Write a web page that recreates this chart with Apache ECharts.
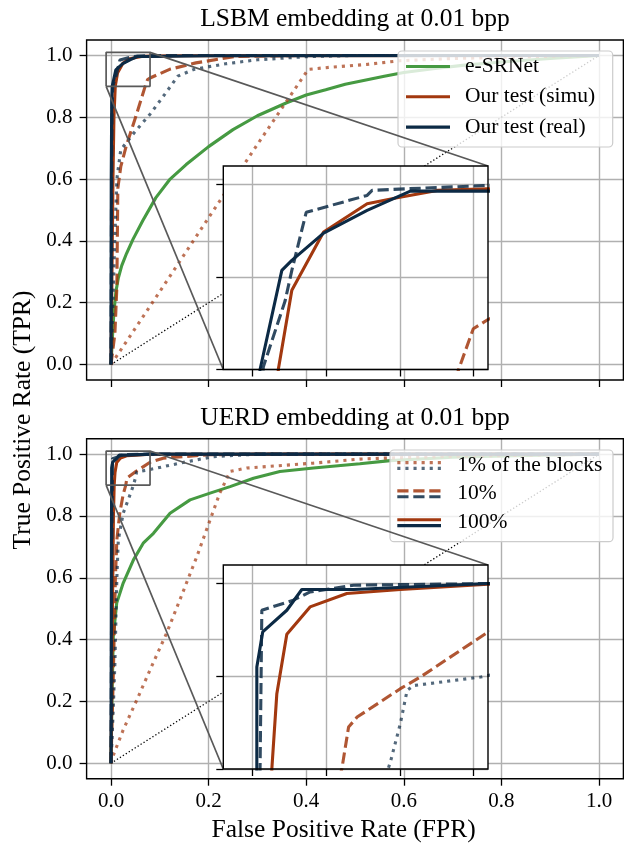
<!DOCTYPE html>
<html><head><meta charset="utf-8">
<script src="https://cdn.jsdelivr.net/npm/echarts@6/dist/echarts.min.js"></script>
<style>html,body{margin:0;padding:0;background:#fff}#c{width:624px;height:844px}</style>
</head><body><div id="c"></div>
<script>
// ---------------- data ----------------
const panelTitles = ['LSBM embedding at 0.01 bpp', 'UERD embedding at 0.01 bpp'];
const xLabel = 'False Positive Rate (FPR)';
const yLabel = 'True Positive Rate (TPR)';
const legendTop = ['e-SRNet', 'Our test (simu)', 'Our test (real)'];
const legendBottom = ['1% of the blocks', '10%', '100%'];
const mainTicks = [0, 0.2, 0.4, 0.6, 0.8, 1.0];
const mainRange = [-0.05, 1.05];
const insetXTicks = [0, 0.025, 0.05, 0.075];
const insetYTicks = [0.9, 0.95, 1.0];
const insetXRange = [-0.01, 0.08];
const insetYRange = [0.9, 1.01];
const diagonal = [[0, 0], [1, 1]];

// LSBM panel
const lsbm_srnet = [[0,0],[0.003,0.09],[0.006,0.17],[0.01,0.235],[0.015,0.28],[0.022,0.32],[0.032,0.36],[0.045,0.405],[0.065,0.465],[0.092,0.54],[0.12,0.598],[0.154,0.647],[0.2,0.705],[0.25,0.76],[0.3,0.805],[0.36,0.847],[0.4,0.872],[0.44,0.889],[0.48,0.907],[0.56,0.933],[0.6,0.945],[0.66,0.957],[0.72,0.968],[0.8,0.979],[0.9,0.99],[1,1]];
const lsbm_simu1 = [[0,0],[0.1,0.236],[0.2,0.475],[0.3,0.712],[0.404,0.955],[0.45,0.962],[0.524,0.971],[0.592,0.983],[0.7,0.99],[0.85,0.996],[1,1]];
const lsbm_simu10 = [[0,0],[0.008,0.1],[0.012,0.25],[0.014,0.57],[0.02,0.64],[0.031,0.706],[0.051,0.803],[0.07,0.9],[0.075,0.922],[0.08,0.927],[0.12,0.955],[0.174,0.976],[0.256,0.997],[0.4,1.0],[1,1]];
const lsbm_simu100 = [[0,0],[0.002,0.3],[0.004,0.6],[0.006,0.8],[0.0087,0.9],[0.0133,0.9428],[0.0241,0.9743],[0.0389,0.9896],[0.0491,0.9928],[0.0627,0.9968],[0.08,0.9977],[0.15,0.999],[1,1]];
const lsbm_real1 = [[0,0],[0.004,0.2],[0.008,0.42],[0.012,0.6],[0.02,0.695],[0.05,0.755],[0.08,0.81],[0.11,0.874],[0.137,0.933],[0.17,0.955],[0.235,0.973],[0.3,0.986],[0.4,0.996],[0.5,1.0],[1,1]];
const lsbm_real10 = [[0,0],[0.001,0.5],[0.002,0.8],[0.0036,0.9014],[0.011,0.937],[0.0133,0.9536],[0.0182,0.985],[0.0389,0.9941],[0.0406,0.9968],[0.0525,0.9977],[0.08,0.9995],[0.2,1],[1,1]];
const lsbm_real100 = [[0,0],[0.0005,0.6],[0.0015,0.85],[0.0025,0.9],[0.0099,0.9536],[0.0133,0.959],[0.0241,0.9737],[0.0389,0.986],[0.0536,0.9964],[0.08,0.9964],[0.2,0.999],[1,1]];

// UERD panel
const uerd_srnet = [[0,0],[0.002,0.2],[0.0047,0.41],[0.0117,0.518],[0.025,0.583],[0.046,0.658],[0.066,0.712],[0.087,0.744],[0.121,0.809],[0.162,0.852],[0.203,0.874],[0.244,0.895],[0.292,0.922],[0.346,0.944],[0.415,0.955],[0.51,0.969],[0.572,0.979],[0.7,0.99],[0.85,0.996],[1,1]];
const uerd_simu1 = [[0,0],[0.005,0.027],[0.025,0.108],[0.053,0.205],[0.08,0.302],[0.114,0.421],[0.141,0.528],[0.176,0.669],[0.203,0.787],[0.223,0.874],[0.244,0.944],[0.278,0.955],[0.415,0.971],[0.51,0.984],[0.558,0.987],[0.7,0.993],[1,1]];
const uerd_simu10 = [[0,0],[0.005,0.3],[0.009,0.6],[0.012,0.723],[0.018,0.809],[0.025,0.87],[0.0303,0.9],[0.0326,0.9226],[0.0355,0.928],[0.0502,0.9433],[0.057,0.9496],[0.0792,0.973],[0.107,0.987],[0.2,0.998],[0.3,1],[1,1]];
const uerd_simu100 = [[0,0],[0.003,0.5],[0.005,0.8],[0.0065,0.9],[0.0082,0.9406],[0.0116,0.9726],[0.0195,0.9874],[0.032,0.9946],[0.0502,0.9968],[0.08,0.9996],[1,1]];
const uerd_real1 = [[0,0],[0.004,0.15],[0.008,0.324],[0.012,0.6],[0.015,0.723],[0.025,0.809],[0.037,0.86],[0.045,0.895],[0.0468,0.9037],[0.0502,0.9245],[0.0525,0.9424],[0.0548,0.945],[0.0775,0.9496],[0.094,0.955],[0.141,0.971],[0.21,0.992],[0.3,1],[1,1]];
const uerd_real10 = [[0,0],[0.0015,0.6],[0.0025,0.9],[0.0031,0.9856],[0.0138,0.991],[0.0195,0.9955],[0.0343,0.9991],[0.08,1.0],[1,1]];
const uerd_real100 = [[0,0],[0.001,0.8],[0.0014,0.9],[0.0014,0.955],[0.0034,0.9739],[0.0116,0.9856],[0.0167,0.9968],[0.0343,0.9968],[0.08,1.0],[1,1]];

// ---------------- styles ----------------
const FONT = "'Liberation Serif', 'Times New Roman', serif";
const C_GREEN = '#469a42', C_RUST = '#a2380f', C_NAVY = '#0c2a45';
const LW = 3.1;
const DOT = [3.1, 5.0], DASH = [11.2, 4.8];
const GRID_C = '#b0b0b0';
const BOX_C = '#595959';

const chart = echarts.init(document.getElementById('c'), null, {renderer: 'canvas'});

const grids = [
  {left: 86.6, top: 40, width: 536.8, height: 340, outerBoundsMode: 'none', containLabel: false},
  {left: 86.6, top: 438.7, width: 536.8, height: 340, outerBoundsMode: 'none', containLabel: false},
  {left: 223.3, top: 166, width: 264.7, height: 203.5, z: 10, show: true, backgroundColor: '#fff', borderWidth: 0, outerBoundsMode: 'none', containLabel: false},
  {left: 223.3, top: 565, width: 264.7, height: 204, z: 10, show: true, backgroundColor: '#fff', borderWidth: 0, outerBoundsMode: 'none', containLabel: false}
];

function mainAxis(i, isX, showLabels) {
  return {
    gridIndex: i, type: 'value', min: mainRange[0], max: mainRange[1],
    axisLine: {show: false, onZero: false},
    axisTick: {show: true, inside: false, length: 7, customValues: mainTicks, lineStyle: {color: '#000', width: 1.3}},
    axisLabel: {show: showLabels, customValues: mainTicks, formatter: v => Number(v).toFixed(1),
      fontFamily: FONT, fontSize: 21, color: '#000', margin: isX ? 12 : 14},
    splitLine: {show: true, lineStyle: {color: GRID_C, width: 1.4}}
  };
}
function insetAxis(i, isX) {
  return {
    gridIndex: i, type: 'value', z: 11,
    min: isX ? insetXRange[0] : insetYRange[0], max: isX ? insetXRange[1] : insetYRange[1],
    axisLine: {show: false, onZero: false},
    axisTick: {show: true, inside: false, length: 7, customValues: isX ? insetXTicks : insetYTicks, lineStyle: {color: '#000', width: 1.3}},
    axisLabel: {show: false},
    splitLine: {show: true, lineStyle: {color: GRID_C, width: 1.4}}
  };
}
const xAxes = [mainAxis(0, true, false), mainAxis(1, true, true), insetAxis(2, true), insetAxis(3, true)];
const yAxes = [mainAxis(0, false, true), mainAxis(1, false, true), insetAxis(2, false), insetAxis(3, false)];

function line(name, data, g, color, dash, opacity, z, width) {
  return {
    name, type: 'line', data, xAxisIndex: g, yAxisIndex: g, z,
    showSymbol: false, symbol: 'none', silent: true, animation: false, clip: true,
    lineStyle: {color, width: width || LW, type: dash || 'solid', opacity: opacity == null ? 1 : opacity}
  };
}
const panels = [
  {srnet: lsbm_srnet, s1: lsbm_simu1, s10: lsbm_simu10, s100: lsbm_simu100, r1: lsbm_real1, r10: lsbm_real10, r100: lsbm_real100},
  {srnet: uerd_srnet, s1: uerd_simu1, s10: uerd_simu10, s100: uerd_simu100, r1: uerd_real1, r10: uerd_real10, r100: uerd_real100}
];
const boxData = [[insetXRange[0], insetYRange[0]], [insetXRange[1], insetYRange[0]], [insetXRange[1], insetYRange[1]], [insetXRange[0], insetYRange[1]], [insetXRange[0], insetYRange[0]]];

const series = [];
panels.forEach((p, k) => {
  [k, k + 2].forEach((g, j) => {
    const z = j === 0 ? 2 : 12;
    series.push(line('diag', diagonal, g, '#000', [1.3, 2.2], 1, z, 1.3));
    series.push(line('e-SRNet', p.srnet, g, C_GREEN, 'solid', 1, z));
    series.push(line('simu 1%', p.s1, g, C_RUST, DOT, 0.7, z));
    series.push(line('simu 10%', p.s10, g, C_RUST, DASH, 0.85, z));
    series.push(line('simu 100%', p.s100, g, C_RUST, 'solid', 1, z));
    series.push(line('real 1%', p.r1, g, C_NAVY, DOT, 0.7, z));
    series.push(line('real 10%', p.r10, g, C_NAVY, DASH, 0.85, z));
    series.push(line('real 100%', p.r100, g, C_NAVY, 'solid', 1, z));
  });
  series.push(line('zoom box', boxData, k, BOX_C, 'solid', 1, 3, 1.7));
});

chart.setOption({
  animation: false,
  backgroundColor: '#fff',
  grid: grids, xAxis: xAxes, yAxis: yAxes, series
});

// ---------------- decorations computed from axes ----------------
const gr = [];
const P = (g, v) => chart.convertToPixel({gridIndex: g}, v);
const txt = (text, x, y, size, rot) => ({
  type: 'text', silent: true, z: 8, x, y, rotation: rot || 0,
  style: {text, x: 0, y: 0, fill: '#000', font: size + 'px ' + FONT, align: 'center', verticalAlign: 'middle'}
});

[0, 1].forEach(m => {
  const a = P(m, [mainRange[0], mainRange[1]]), b = P(m, [mainRange[1], mainRange[0]]);
  gr.push({type: 'rect', silent: true, z: 4, shape: {x: a[0], y: a[1], width: b[0] - a[0], height: b[1] - a[1]}, style: {fill: 'none', stroke: '#000', lineWidth: 1.4}});
  const ins = m + 2;
  const p1 = P(m, [insetXRange[1], insetYRange[1]]), q1 = P(ins, [insetXRange[1], insetYRange[1]]);
  const p2 = P(m, [insetXRange[0], insetYRange[0]]), q2 = P(ins, [insetXRange[0], insetYRange[0]]);
  gr.push({type: 'line', silent: true, z: 6, shape: {x1: p1[0], y1: p1[1], x2: q1[0], y2: q1[1]}, style: {stroke: BOX_C, lineWidth: 1.7}});
  gr.push({type: 'line', silent: true, z: 6, shape: {x1: p2[0], y1: p2[1], x2: q2[0], y2: q2[1]}, style: {stroke: BOX_C, lineWidth: 1.7}});
  const tl = P(ins, [insetXRange[0], insetYRange[1]]);
  gr.push({type: 'rect', silent: true, z: 13, shape: {x: tl[0], y: tl[1], width: q1[0] - tl[0], height: q2[1] - tl[1]}, style: {fill: 'none', stroke: '#000', lineWidth: 1.4}});
  gr.push(txt(panelTitles[m], (a[0] + b[0]) / 2, a[1] - 20.5, 25.5));
});

gr.push(txt(xLabel, 343.6, 830.2, 25.5));
gr.push(txt(yLabel, 22.9, 420, 25.5, Math.PI / 2));

function legendBox(x, y, w, h) {
  gr.push({type: 'rect', silent: true, z: 5, shape: {x, y, width: w, height: h, r: 4},
    style: {fill: 'rgba(255,255,255,0.8)', stroke: '#cccccc', lineWidth: 1.2}});
}
function sample(x1, x2, y, color, dash, opacity) {
  gr.push({type: 'line', silent: true, z: 5, z2: 2, shape: {x1, y1: y, x2, y2: y},
    style: {stroke: color, lineWidth: LW, lineDash: dash || null, opacity: opacity == null ? 1 : opacity}});
}
function ltext(text, x, y) {
  gr.push({type: 'text', silent: true, z: 5, z2: 3, style: {text, x, y, fill: '#000', font: '21.5px ' + FONT, align: 'left', verticalAlign: 'middle'}});
}
legendBox(398, 51, 214.7, 96);
const topRows = [66.5, 96.7, 127.1];
const topColors = [C_GREEN, C_RUST, C_NAVY];
legendTop.forEach((t, i) => { sample(406, 450, topRows[i], topColors[i]); ltext(t, 465, topRows[i]); });

legendBox(390, 450, 223, 91.7);
const botRows = [465.5, 493.8, 522.7];
const botDash = [DOT, DASH, null], botOp = [0.7, 0.85, 1];
legendBottom.forEach((t, i) => {
  sample(397.3, 441, botRows[i] - 2.9, C_RUST, botDash[i], botOp[i]);
  sample(397.3, 441, botRows[i] + 2.9, C_NAVY, botDash[i], botOp[i]);
  ltext(t, 457.3, botRows[i]);
});

chart.setOption({graphic: {elements: gr}});
</script></body></html>
